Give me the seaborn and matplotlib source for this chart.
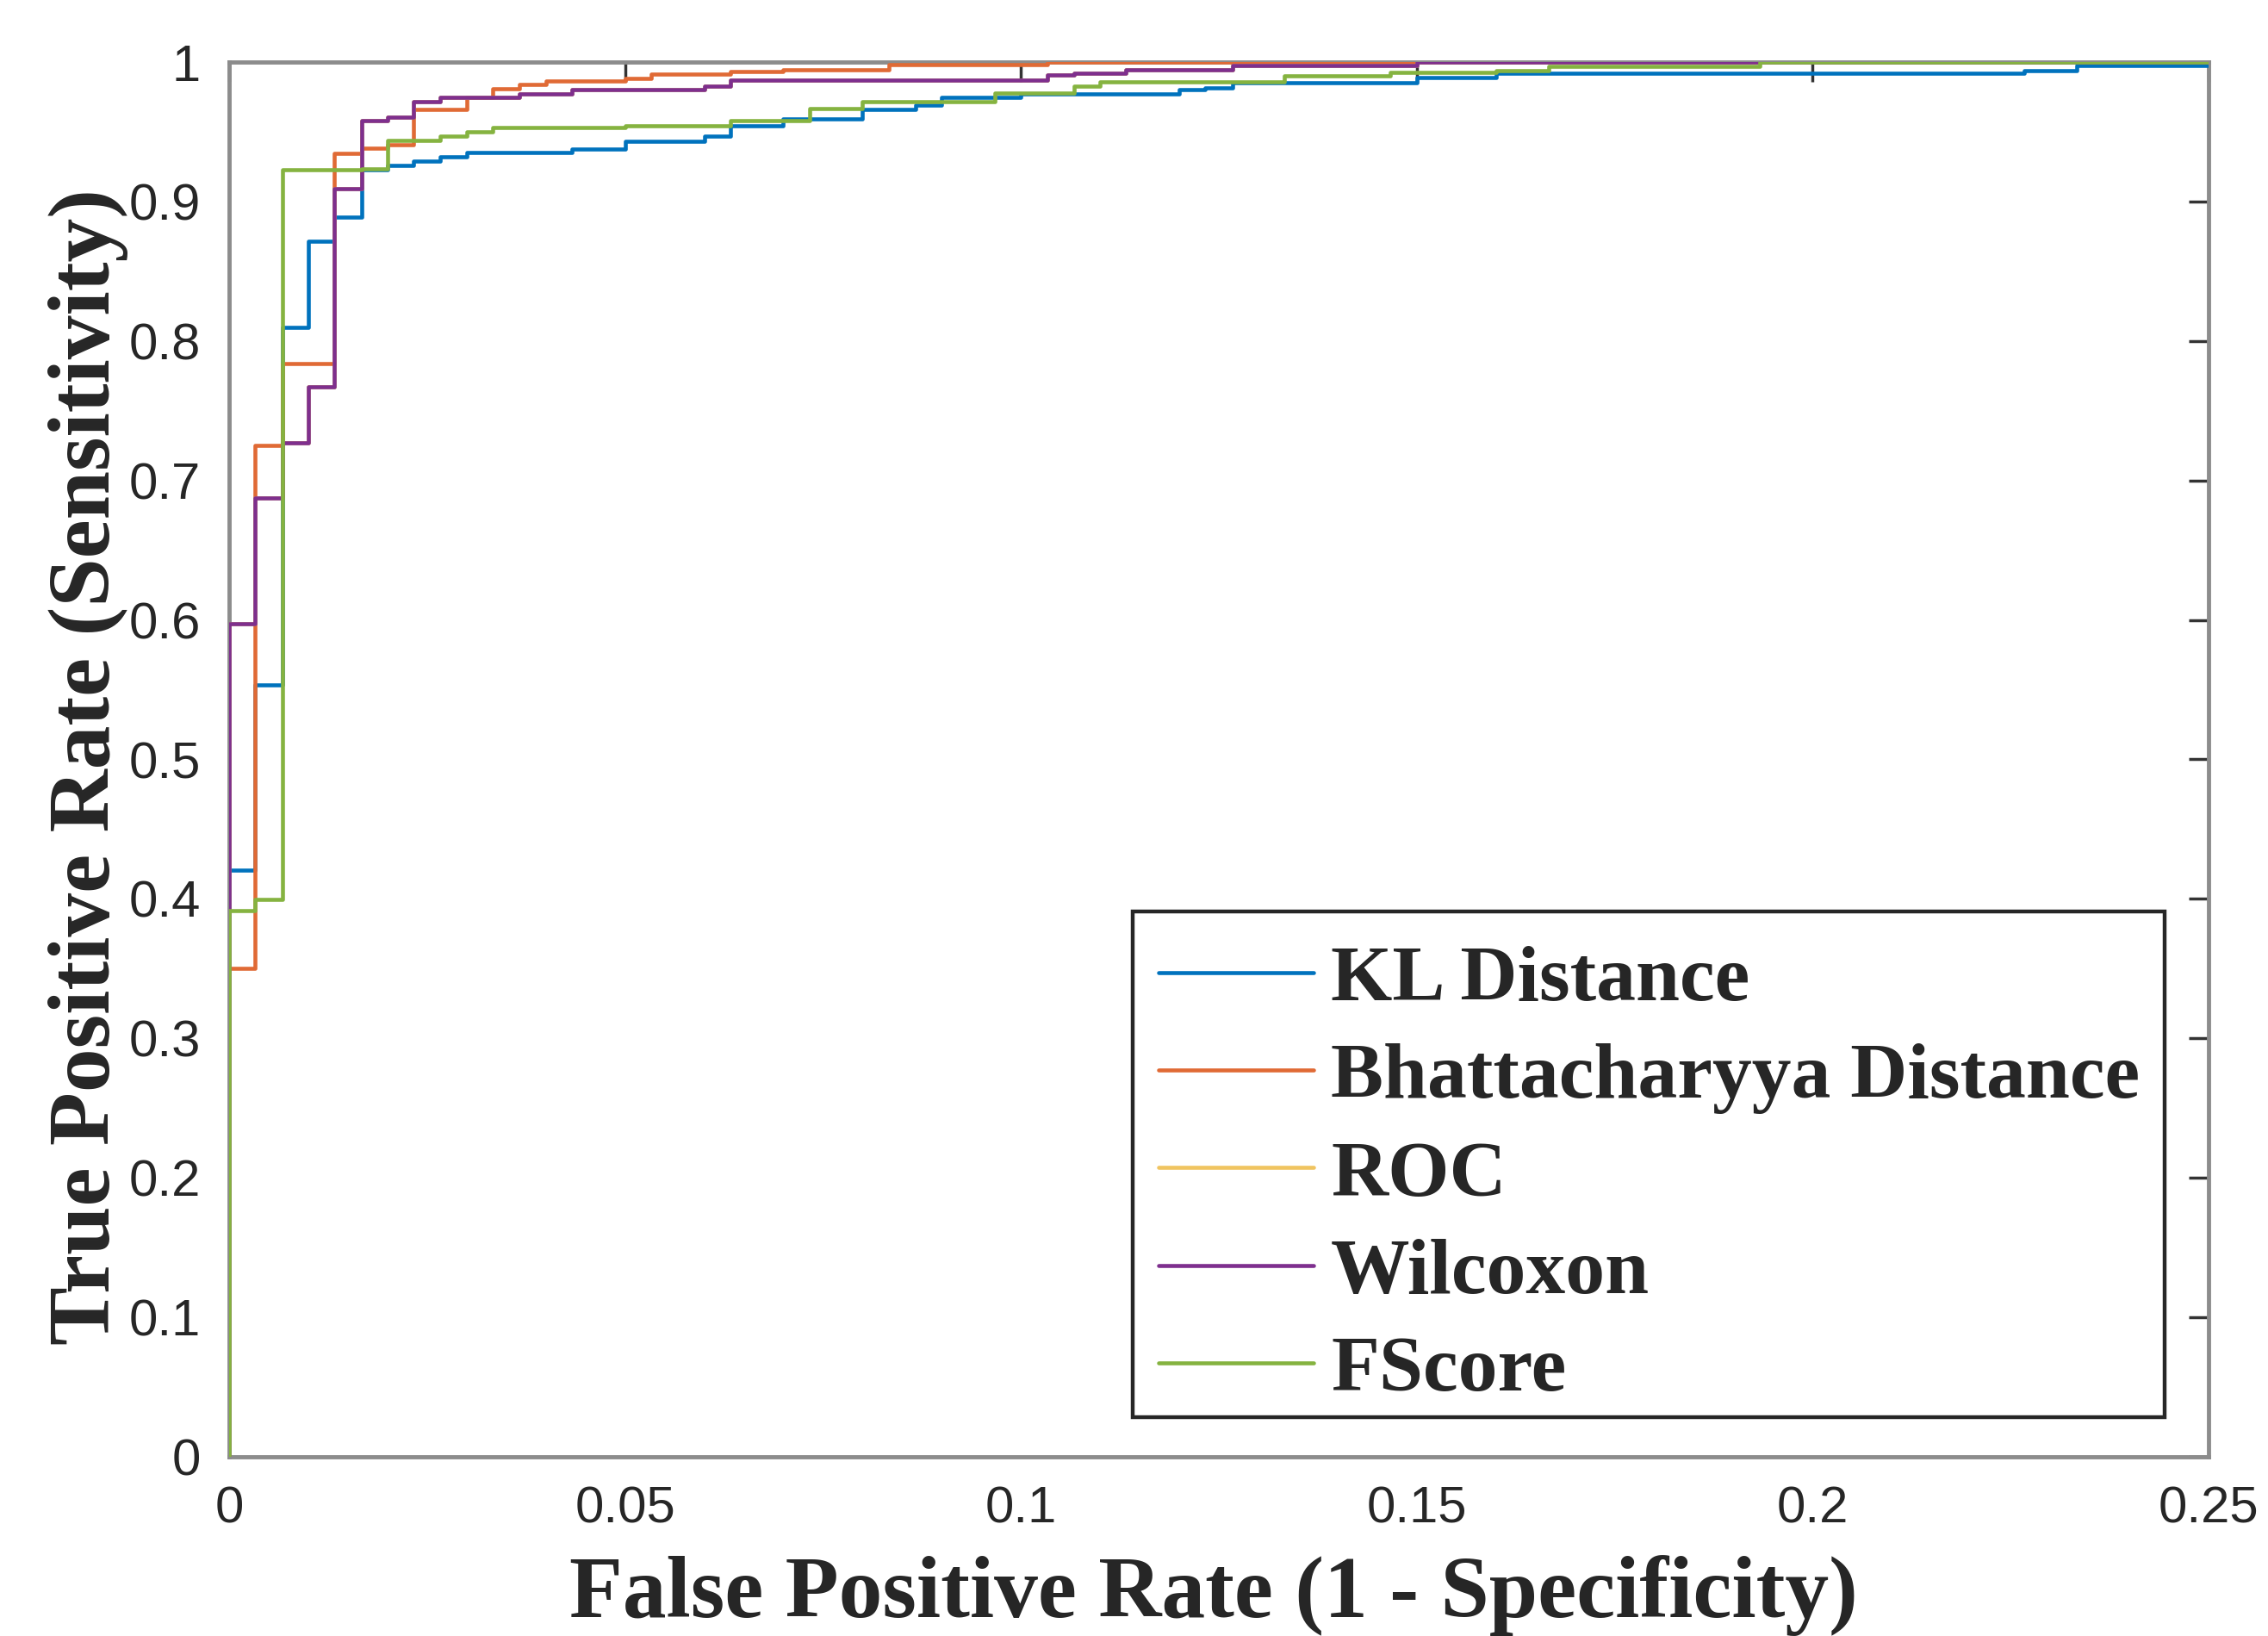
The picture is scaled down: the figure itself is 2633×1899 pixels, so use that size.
import matplotlib
matplotlib.use('Agg')
import matplotlib.pyplot as plt
from matplotlib.patches import Rectangle
import seaborn as sns

# ROC staircases: FPR at which TPR steps up, and the new TPR
methods = ['KL Distance', 'Bhattacharyya Distance', 'ROC', 'Wilcoxon', 'FScore']

kl_fpr = [0, 0, 0.0033, 0.0067, 0.0100, 0.0133, 0.0167, 0.0200, 0.0233, 0.0267, 0.0300,
          0.0433, 0.0500, 0.0600, 0.0633, 0.0700, 0.0800, 0.0867, 0.0900, 0.1000, 0.1200,
          0.1233, 0.1267, 0.1500, 0.1600, 0.2267, 0.2333, 0.25]
kl_tpr = [0, 0.4205, 0.5537, 0.8098, 0.8716, 0.8890, 0.9230, 0.9260, 0.9290, 0.9320, 0.9350,
          0.9374, 0.9430, 0.9466, 0.9545, 0.9590, 0.9658, 0.9690, 0.9745, 0.9772, 0.9802,
          0.9813, 0.9854, 0.9890, 0.9917, 0.9940, 0.9973, 0.9973]

bd_fpr = [0, 0, 0.0033, 0.0067, 0.0133, 0.0167, 0.0200, 0.0233, 0.0300, 0.0333, 0.0367,
          0.0400, 0.0500, 0.0533, 0.0633, 0.0700, 0.0833, 0.1033, 0.25]
bd_tpr = [0, 0.3500, 0.7250, 0.7840, 0.9347, 0.9380, 0.9405, 0.9658, 0.9744, 0.9807, 0.9840,
          0.9866, 0.9880, 0.9911, 0.9935, 0.9944, 0.9980, 1.0, 1.0]

wx_fpr = [0, 0, 0.0033, 0.0067, 0.0100, 0.0133, 0.0167, 0.0200, 0.0233, 0.0267, 0.0367,
          0.0433, 0.0600, 0.0633, 0.1033, 0.1067, 0.1133, 0.1267, 0.1500, 0.25]
wx_tpr = [0, 0.5970, 0.6874, 0.7271, 0.7670, 0.9090, 0.9581, 0.9606, 0.9714, 0.9744, 0.9772,
          0.9800, 0.9830, 0.9868, 0.9905, 0.9919, 0.9946, 0.9975, 1.0, 1.0]

# the ROC ranking gives the same curve as Wilcoxon (hidden under it)
roc_fpr = list(wx_fpr)
roc_tpr = list(wx_tpr)

fs_fpr = [0, 0, 0.0033, 0.0067, 0.0167, 0.0200, 0.0267, 0.0300, 0.0333, 0.0500, 0.0633,
          0.0733, 0.0800, 0.0967, 0.1067, 0.1100, 0.1333, 0.1467, 0.1600, 0.1667, 0.1933, 0.25]
fs_tpr = [0, 0.3916, 0.3998, 0.9230, 0.9236, 0.9436, 0.9466, 0.9497, 0.9529, 0.9545, 0.9580,
          0.9667, 0.9714, 0.9780, 0.9827, 0.9858, 0.9900, 0.9925, 0.9940, 0.9970, 1.0, 1.0]

colors = ['#0072BD', '#E06A35', '#F0C460', '#7E2F8E', '#85B340']

x_ticks = [0, 0.05, 0.1, 0.15, 0.2, 0.25]
x_ticklabels = ['0', '0.05', '0.1', '0.15', '0.2', '0.25']
y_ticks = [0, 0.1, 0.2, 0.3, 0.4, 0.5, 0.6, 0.7, 0.8, 0.9, 1.0]
y_ticklabels = ['0', '0.1', '0.2', '0.3', '0.4', '0.5', '0.6', '0.7', '0.8', '0.9', '1']

sns.set_theme(style='white')
plt.rcParams['font.family'] = ['Liberation Sans', 'DejaVu Sans']
serif = ['Liberation Serif', 'DejaVu Serif']

W, H = 2633, 1899
fig = plt.figure(figsize=(W / 100 + 0.0001, H / 100 + 0.0001), dpi=100)
ax = fig.add_axes([266 / W, 1 - 1691 / H, 2298 / W, 1619 / H])

curves = [(kl_fpr, kl_tpr), (bd_fpr, bd_tpr), (roc_fpr, roc_tpr), (wx_fpr, wx_tpr), (fs_fpr, fs_tpr)]
for name, (fpr, tpr), col in zip(methods, curves, colors):
    sns.lineplot(x=fpr, y=tpr, ax=ax, color=col, label=name, sort=False, estimator=None,
                 drawstyle='steps-post', linewidth=3.3, zorder=3)

ax.set_xlim(0, 0.25)
ax.set_ylim(0, 1)
ax.set_xticks(x_ticks)
ax.set_xticklabels(x_ticklabels)
ax.set_yticks(y_ticks)
ax.set_yticklabels(y_ticklabels)
ax.tick_params(direction='in', length=16.5, width=2.5, color='#333333', labelsize=43,
               labelcolor='#262626', pad=24, top=True, right=True)

for s in ax.spines.values():
    s.set_visible(True)
    s.set_color('#8c8c8c')
    s.set_linewidth(3.5)

ax.set_xlabel('False Positive Rate (1 - Specificity)', fontsize=73, fontweight='bold',
              family=serif, color='#262626')
ax.xaxis.label.set_va('baseline')
ax.xaxis.set_label_coords(0.4975, (1691 - 1877) / 1619)

ax.set_ylabel('True Positive Rate (Sensitivity)', fontsize=73, fontweight='bold',
              family=serif, color='#262626')
ax.yaxis.label.set_va('baseline')
ax.yaxis.set_label_coords((127 - 266) / 2298, 0.4948)

# legend frame drawn separately so the entries can sit a little lower inside it
ax.add_patch(Rectangle((0.4565, 0.0284), 0.5215, 0.3626, transform=ax.transAxes,
                       facecolor='white', edgecolor='#262626', linewidth=3.2, zorder=4))
leg = ax.legend(loc='lower right', bbox_to_anchor=(0.978, 0.0175), borderaxespad=0,
                prop={'family': serif, 'weight': 'bold', 'size': 66}, frameon=False,
                handlelength=1.96, handletextpad=0.22, labelspacing=0.33, borderpad=0.32)
leg.set_zorder(5)
for line in leg.get_lines():
    line.set_linewidth(3.3)

fig.savefig('out.png', dpi=100)
plt.close(fig)
